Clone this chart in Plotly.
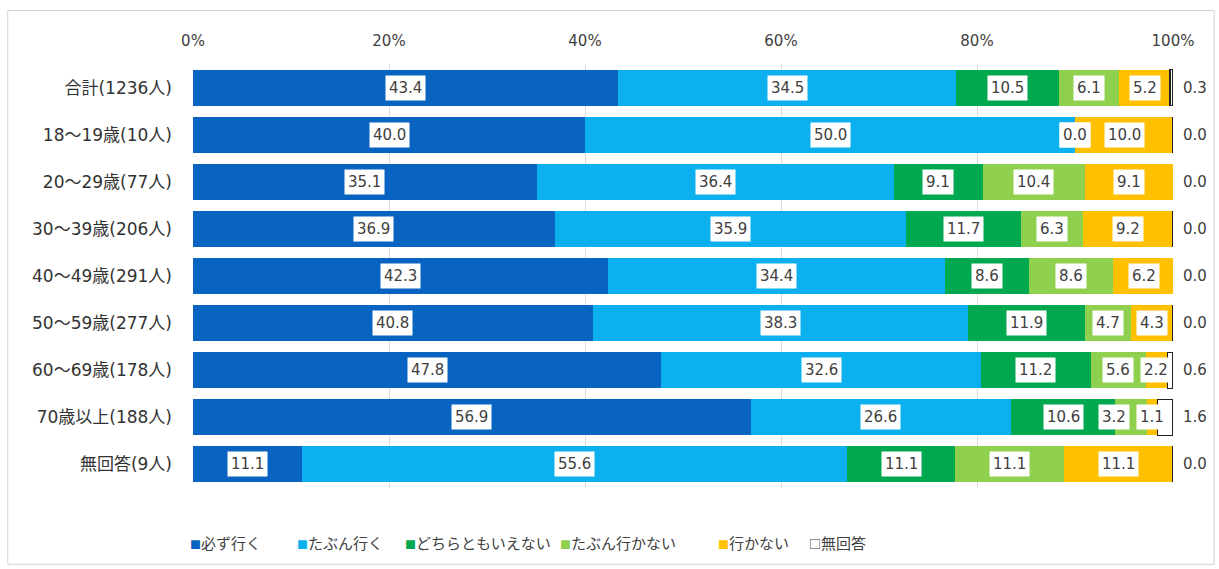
import plotly.graph_objects as go

# Respondent groups (top to bottom)
groups = ["合計(1236人)", "18～19歳(10人)", "20～29歳(77人)", "30～39歳(206人)",
          "40～49歳(291人)", "50～59歳(277人)", "60～69歳(178人)",
          "70歳以上(188人)", "無回答(9人)"]

# Answer categories
answers = ["必ず行く", "たぶん行く", "どちらともいえない", "たぶん行かない", "行かない", "無回答"]

# Share of answers per group (%)
kanarazu     = [43.4, 40.0, 35.1, 36.9, 42.3, 40.8, 47.8, 56.9, 11.1]
tabun_iku    = [34.5, 50.0, 36.4, 35.9, 34.4, 38.3, 32.6, 26.6, 55.6]
dochiramo    = [10.5, 0.0, 9.1, 11.7, 8.6, 11.9, 11.2, 10.6, 11.1]
tabun_ikanai = [6.1, 0.0, 10.4, 6.3, 8.6, 4.7, 5.6, 3.2, 11.1]
ikanai       = [5.2, 10.0, 9.1, 9.2, 6.2, 4.3, 2.2, 1.1, 11.1]
mukaitou     = [0.3, 0.0, 0.0, 0.0, 0.0, 0.0, 0.6, 1.6, 0.0]

series = [kanarazu, tabun_iku, dochiramo, tabun_ikanai, ikanai, mukaitou]
colors = ["#0863c1", "#0cb0ef", "#00a94f", "#8fd14f", "#ffc000", "#ffffff"]
xaxis_ticks = [0, 20, 40, 60, 80, 100]

# Wide Latin digits, Japanese glyphs from the CJK face
FONT = "DejaVu Sans, Noto Sans CJK JP"
JFONT = "Noto Sans CJK JP"
TXT = "#404040"

# Small sideways nudges (px) for labels that would otherwise collide
label_nudge = {(7, 3): -17}

fig = go.Figure()
for name, vals, col in zip(answers, series, colors):
    line = dict(color="#222222", width=1.2) if name == "無回答" else dict(width=0)
    fig.add_trace(go.Bar(
        y=groups, x=vals, name=name, orientation="h",
        marker=dict(color=col, line=line),
        hoverinfo="x+y+name", showlegend=False,
    ))

# Value labels in white boxes at segment centres; the last answer sits right of the bar
annotations = []
for gi, g in enumerate(groups):
    left = 0.0
    for si, vals in enumerate(series):
        v = vals[gi]
        if si == len(series) - 1:
            annotations.append(dict(
                x=1.022, y=g, xref="paper", yref="y", text=f"{v:.1f}",
                showarrow=False, font=dict(family=FONT, size=15, color=TXT),
                xanchor="center",
            ))
        else:
            annotations.append(dict(
                x=left + v / 2, y=g, xref="x", yref="y", text=f"{v:.1f}",
                xshift=label_nudge.get((gi, si), 0),
                showarrow=False, font=dict(family=FONT, size=15, color=TXT),
                bgcolor="#ffffff", borderpad=3,
            ))
        left += v

# Legend row drawn as text: coloured square followed by the answer name
legend_x = [-0.005, 0.104, 0.214, 0.372, 0.534, 0.627]
for name, col, lx in zip(answers, colors, legend_x):
    if name == "無回答":
        mark = "<span style='color:#333333;font-size:12px'>□</span>"
    else:
        mark = f"<span style='color:{col};font-size:11px'>■</span>"
    annotations.append(dict(
        x=lx, y=-0.128, xref="paper", yref="paper", xanchor="left", yanchor="middle",
        text=mark + name, showarrow=False,
        font=dict(family=JFONT, size=15, color=TXT),
    ))

fig.update_layout(
    barmode="stack",
    bargap=0.236,
    width=1219, height=569,
    margin=dict(l=193, r=46, t=64, b=81),
    paper_bgcolor="#ffffff", plot_bgcolor="#ffffff",
    font=dict(family=FONT, size=15, color=TXT),
    annotations=annotations,
    showlegend=False,
    xaxis=dict(
        side="top", range=[0, 100], tickvals=xaxis_ticks,
        ticktext=[f"{t}%" for t in xaxis_ticks],
        showgrid=True, gridcolor="#dcdcdc", gridwidth=1,
        zeroline=False, showline=False, ticks="",
        ticklabelstandoff=14,
        tickfont=dict(family=FONT, size=15, color=TXT),
        fixedrange=True,
    ),
    yaxis=dict(
        autorange="reversed", showgrid=False, showline=False, ticks="",
        ticklabelstandoff=20,
        tickfont=dict(family=FONT, size=17, color="#333333"),
        fixedrange=True,
    ),
    shapes=[dict(
        type="rect", xref="paper", yref="paper",
        x0=-0.189, x1=1.042, y0=-0.18, y1=1.126,
        line=dict(color="#d4d4d4", width=1), fillcolor="rgba(0,0,0,0)",
        layer="below",
    )],
)

fig.write_html("out.html")
